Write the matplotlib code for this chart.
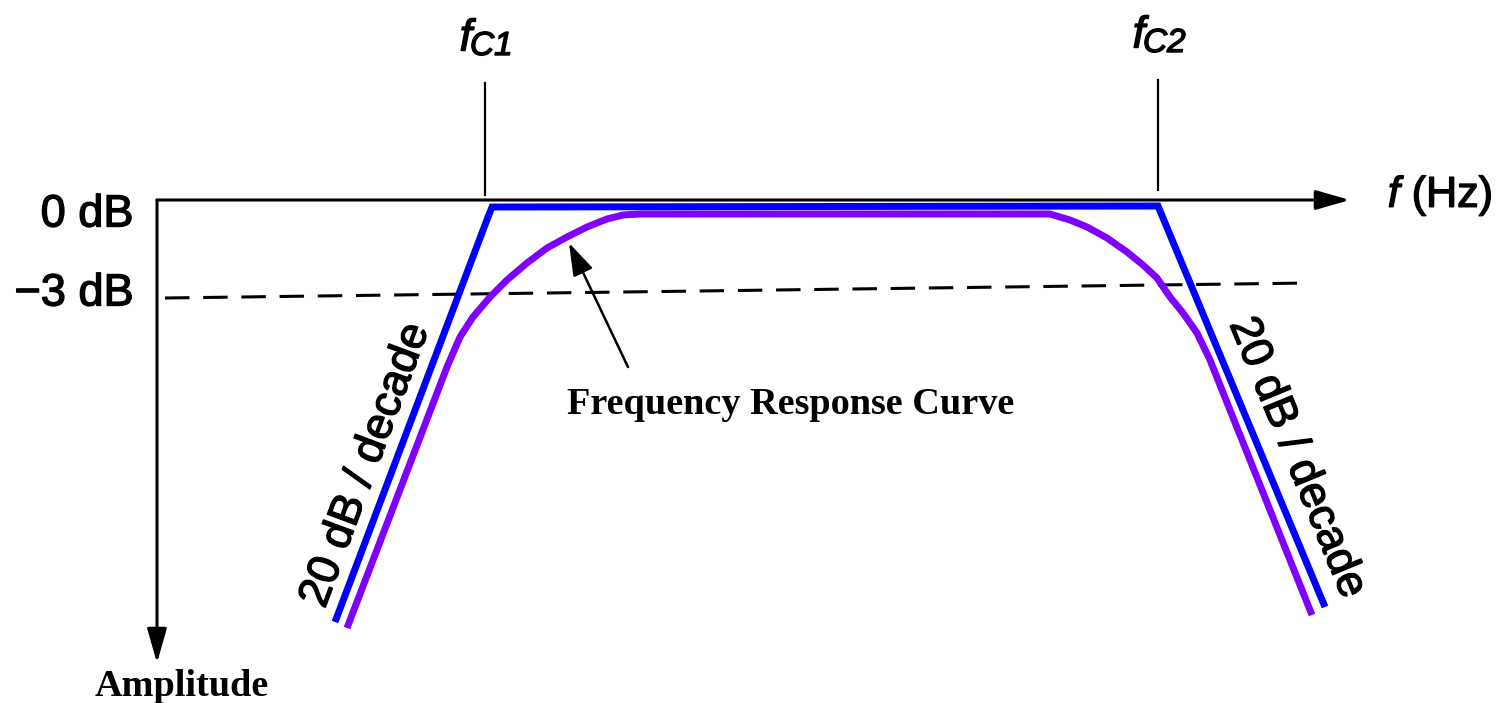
from matplotlib import pyplot as plt
from matplotlib.patches import ArrowStyle
import matplotlib.patheffects as pe

# everything in picture pixel units (x right, y down)
blue_x = [335, 488, 492, 1158, 1325]
blue_y = [622, 217, 207, 206, 607]

purple_x = [347, 447, 460, 473, 490, 507, 527, 547, 567, 587, 607, 623, 640,
            1050, 1070, 1087, 1107, 1127, 1143, 1157, 1170, 1183, 1197, 1210, 1312]
purple_y = [628, 367, 337, 317, 297, 280, 263, 248, 237, 227, 219, 215, 214,
            214, 220, 227, 238, 252, 265, 278, 297, 313, 333, 360, 615]

minus3_x = [165, 1310]
minus3_y = [298, 283]

fc_x = [485, 1158]
fc_top = [83, 80]
fc_bottom = [195, 190]
fc_labels = ["C1", "C2"]

origin = (157, 200)
x_axis_end = 1350
y_axis_end = 663

plt.rcParams['font.family'] = ['Liberation Sans', 'DejaVu Sans']
plt.rcParams['mathtext.fontset'] = 'custom'
plt.rcParams['mathtext.it'] = 'Liberation Sans:italic'
plt.rcParams['mathtext.rm'] = 'Liberation Sans'

fig = plt.figure(figsize=(15.05, 7.03), dpi=100)
ax = fig.add_axes([0, 0, 1, 1])
ax.set_xlim(0, 1505)
ax.set_ylim(703, 0)
ax.axis('off')

# scanned look: slightly heavier glyphs
thick = [pe.withStroke(linewidth=1.0, foreground='black')]

head = ArrowStyle('-|>', head_length=2.1, head_width=0.6)
ax.annotate('', xy=(x_axis_end, origin[1]), xytext=origin,
            arrowprops=dict(arrowstyle=head, lw=2.2, color='black', mutation_scale=10,
                            shrinkA=0, shrinkB=0))
ax.annotate('', xy=(origin[0], y_axis_end), xytext=origin,
            arrowprops=dict(arrowstyle=head, lw=2.2, color='black', mutation_scale=10,
                            shrinkA=0, shrinkB=0))

ax.plot(minus3_x, minus3_y, color='black', lw=2.2, dashes=(8, 4.5))

for x, t, b in zip(fc_x, fc_top, fc_bottom):
    ax.plot([x, x], [t, b], color='black', lw=1.6)

ax.plot(purple_x, purple_y, color='#8000ff', lw=5.0, solid_capstyle='butt', solid_joinstyle='round')
ax.plot(blue_x, blue_y, color='#0000ff', lw=5.0, solid_capstyle='butt', solid_joinstyle='miter')

# arrow pointing at the curve
ax.annotate('', xy=(569, 243), xytext=(628, 367),
            arrowprops=dict(arrowstyle=ArrowStyle('-|>', head_length=2.0, head_width=0.65),
                            lw=1.8, color='black', mutation_scale=10, shrinkA=0, shrinkB=0))

# labels
ax.text(87, 215, "0 dB", fontsize=32.5, ha='center', va='center', path_effects=thick)
ax.text(74, 294, "\u22123 dB", fontsize=32.5, ha='center', va='center', path_effects=thick)
ax.text(1440, 196, r"$f$ (Hz)", fontsize=31, ha='center', va='center', path_effects=thick)

for x, t, lab in zip(fc_x, fc_top, fc_labels):
    ax.text(x - 13, t - 44, "f", fontsize=32, style='italic', ha='right', va='center',
            path_effects=thick)
    ax.text(x - 15, t - 52, lab, fontsize=24, style='italic', ha='left', va='top',
            path_effects=thick)

ax.text(791, 405, "Frequency Response Curve", fontsize=27.5, fontweight='bold',
        family='Liberation Serif', ha='center', va='center')
ax.text(182, 686, "Amplitude", fontsize=27.5, fontweight='bold',
        family='Liberation Serif', ha='center', va='center')

ax.text(366, 465, "20 dB / decade", fontsize=32, rotation=69.6, rotation_mode='anchor',
        ha='center', va='center', path_effects=thick)
ax.text(1297, 458, "20 dB / decade", fontsize=32, rotation=-67.6, rotation_mode='anchor',
        ha='center', va='center', path_effects=thick)

plt.savefig('out.png', dpi=100)
